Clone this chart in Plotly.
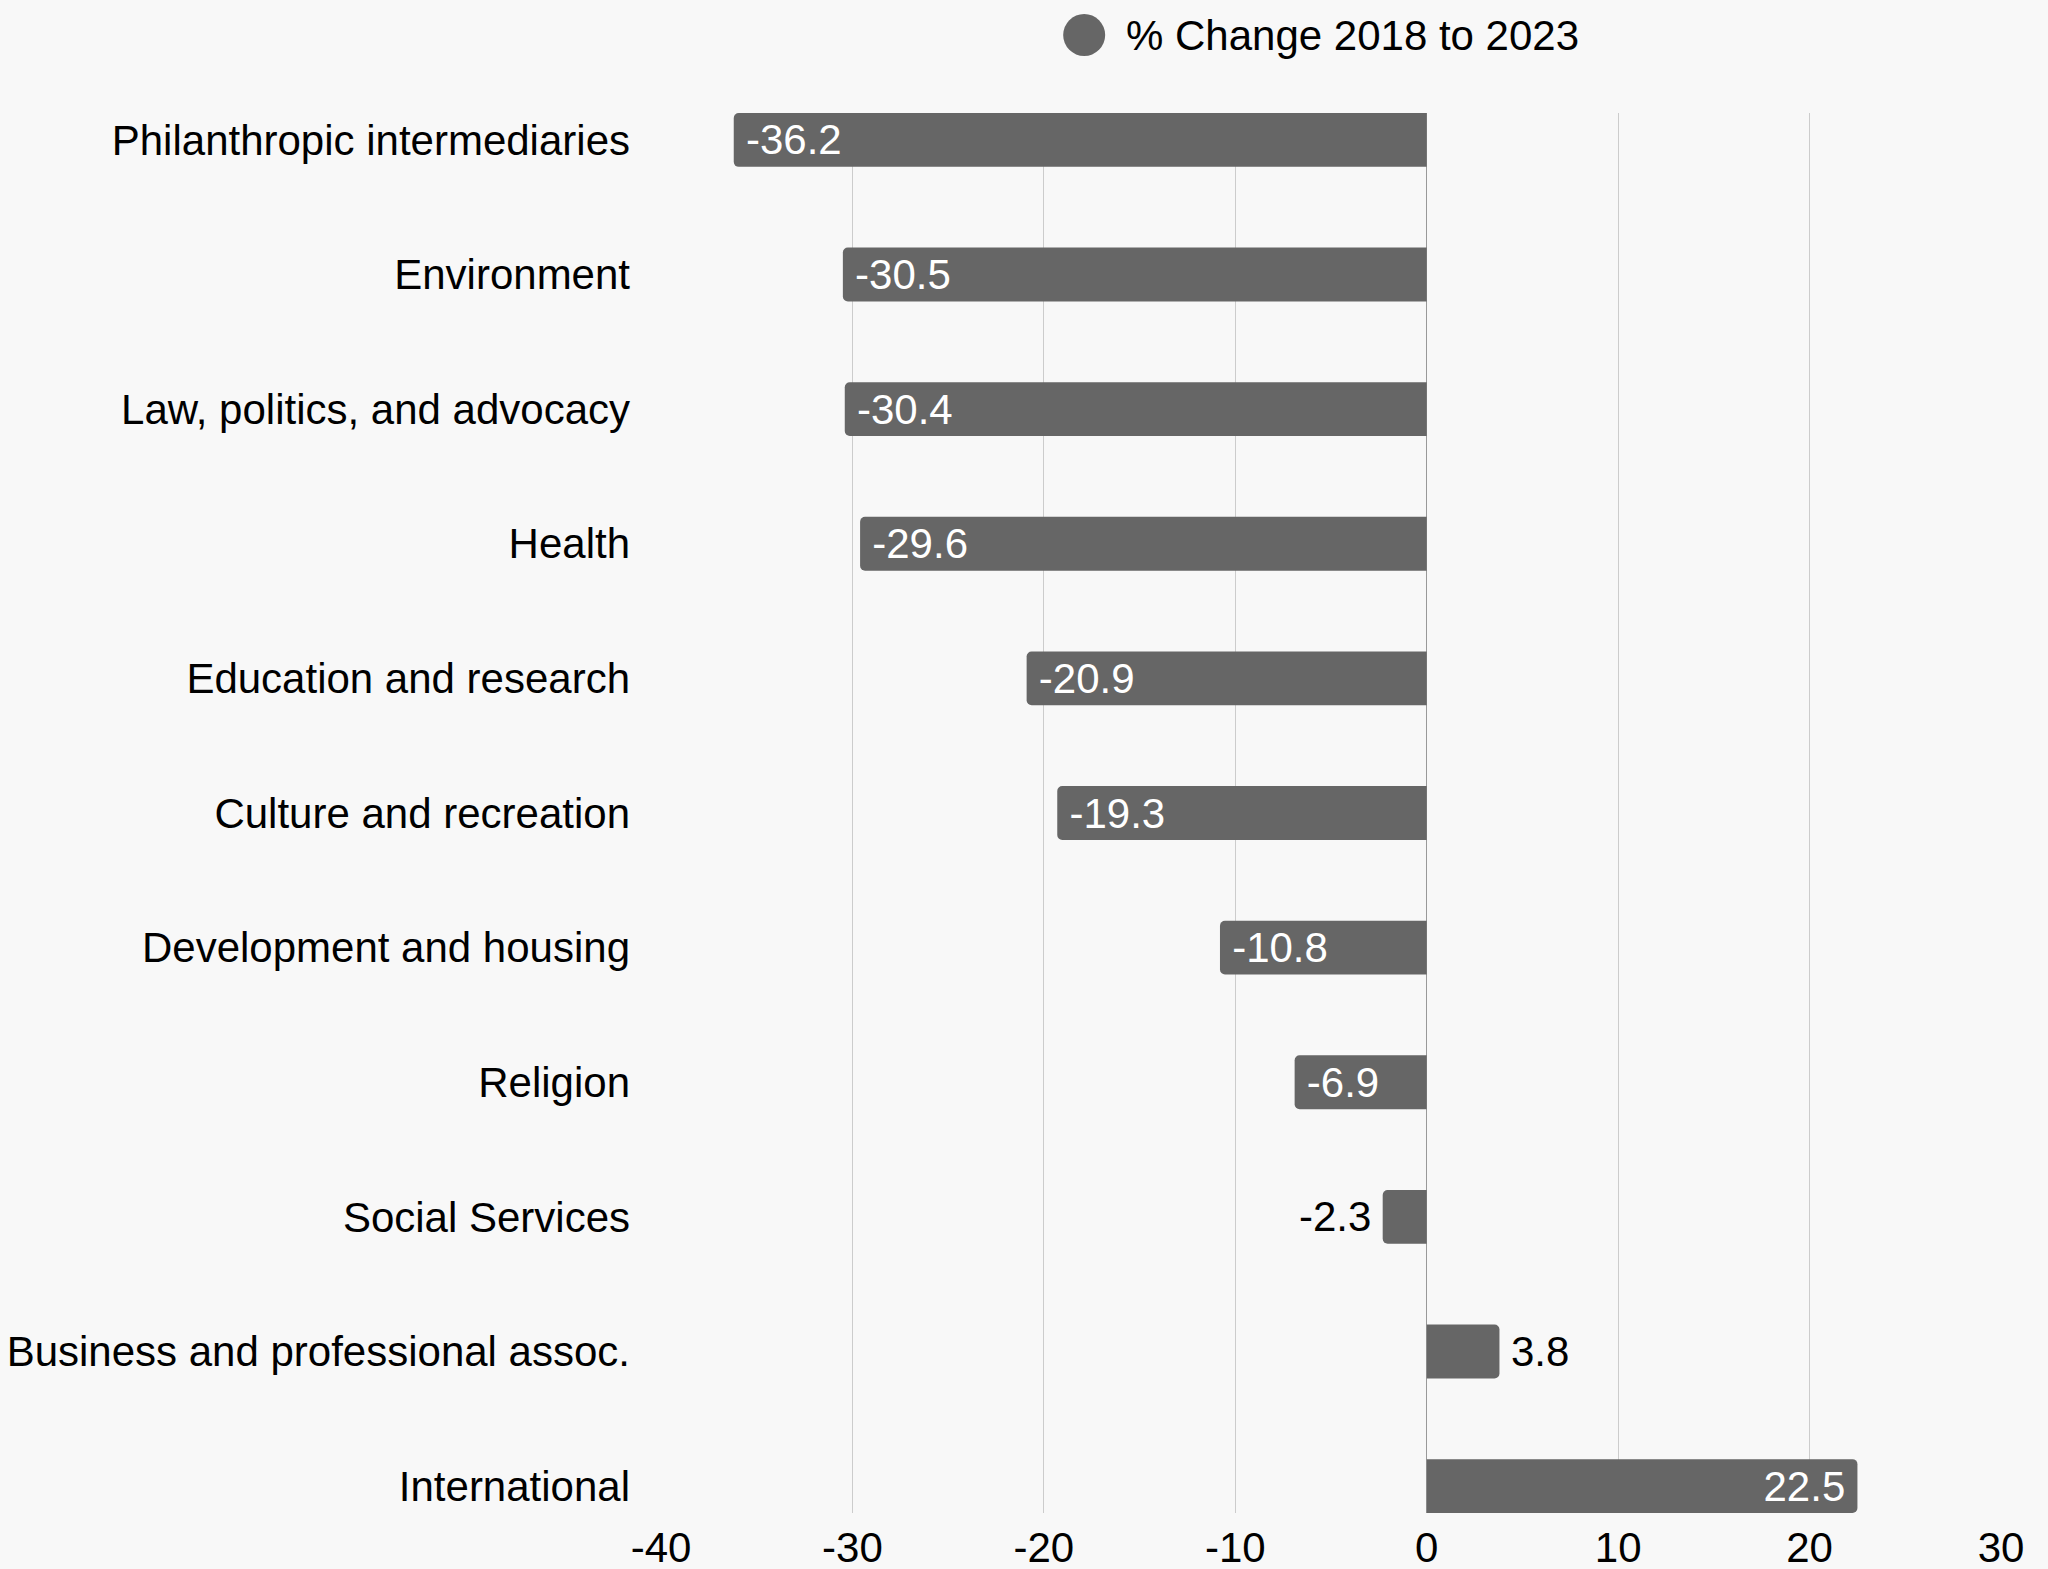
import plotly.graph_objects as go

categories = [
    "Philanthropic intermediaries",
    "Environment",
    "Law, politics, and advocacy",
    "Health",
    "Education and research",
    "Culture and recreation",
    "Development and housing",
    "Religion",
    "Social Services",
    "Business and professional assoc.",
    "International",
]
pct_change = [-36.2, -30.5, -30.4, -29.6, -20.9, -19.3, -10.8, -6.9, -2.3, 3.8, 22.5]
series_name = "% Change 2018 to 2023"
x_ticks = [-40, -30, -20, -10, 0, 10, 20, 30]

FONT = "Liberation Sans, Arial, sans-serif"
BAR = "#666666"
BG = "#f8f8f8"
PAD = "\u2009"

positions = []
labels = []
for v in pct_change:
    inside = abs(v) >= 5
    positions.append("inside" if inside else "outside")
    s = f"{v:.1f}"
    if v < 0:
        labels.append(PAD + s if inside else s + PAD)
    else:
        labels.append(s + PAD if inside else PAD + s)

fig = go.Figure()
fig.add_trace(go.Bar(
    x=pct_change,
    y=categories,
    orientation="h",
    width=0.4,
    marker=dict(color=BAR, cornerradius=5, line=dict(width=0)),
    text=labels,
    textposition=positions,
    insidetextanchor="end",
    insidetextfont=dict(color="#ffffff", size=42, family=FONT),
    outsidetextfont=dict(color="#000000", size=42, family=FONT),
    textangle=0,
    cliponaxis=False,
    showlegend=False,
    name=series_name,
))

fig.update_layout(
    width=2048,
    height=1569,
    paper_bgcolor=BG,
    plot_bgcolor=BG,
    margin=dict(l=661, r=47, t=113, b=56, autoexpand=False),
    font=dict(family=FONT, size=42, color="#000000"),
    showlegend=False,
    xaxis=dict(
        range=[-40, 30],
        tickvals=x_ticks,
        ticktext=[str(t) for t in x_ticks],
        showgrid=True,
        gridcolor="#cccccc",
        gridwidth=1,
        zeroline=True,
        zerolinecolor="#999999",
        zerolinewidth=1,
        showline=False,
        ticks="",
        automargin=False,
        ticklabelstandoff=6,
        tickfont=dict(size=42, color="#000000", family=FONT),
    ),
    yaxis=dict(
        type="category",
        categoryorder="array",
        categoryarray=categories,
        range=[10.2, -0.2],
        showgrid=False,
        zeroline=False,
        showline=False,
        ticks="",
        automargin=False,
        ticklabelstandoff=30,
        tickfont=dict(size=42, color="#000000", family=FONT),
    ),
    shapes=[dict(
        type="circle",
        xref="paper", yref="paper",
        xsizemode="pixel", ysizemode="pixel",
        xanchor=0.3158, yanchor=1.0557,
        x0=-21, x1=21, y0=-21, y1=21,
        fillcolor=BAR, line=dict(width=0),
    )],
    annotations=[dict(
        text=series_name,
        xref="paper", yref="paper",
        x=0.3455, y=1.0557,
        xanchor="left", yanchor="middle",
        showarrow=False,
        font=dict(size=42, color="#000000", family=FONT),
    )],
)

fig.write_html("out.html")
